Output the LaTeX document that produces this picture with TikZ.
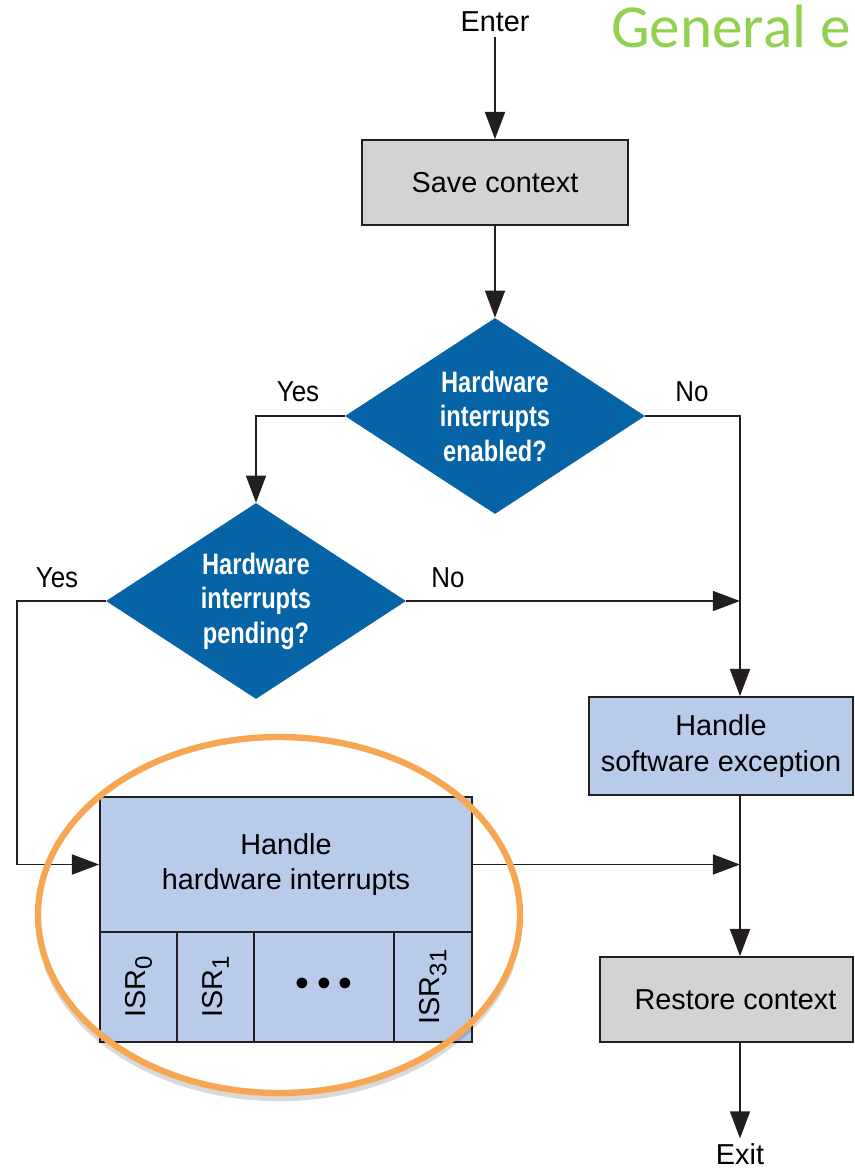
\documentclass[tikz,border=0pt]{standalone}
\usepackage{amsmath,amssymb}
\usepackage{fontspec}
\setmainfont{Liberation Sans}
\newfontfamily\condfont[FakeStretch=0.8]{Liberation Sans}
\newfontfamily\narrowfont[FakeStretch=0.9]{Liberation Sans}
\newfontfamily\slidefont{Carlito}
\usepackage{tikz}
\usetikzlibrary{shapes.geometric, arrows.meta, calc}
\usepackage{xcolor}
\definecolor{ctxgray}{RGB}{209,211,212}
\definecolor{handleblue}{RGB}{184,204,233}
\definecolor{decblue}{RGB}{5,99,166}
\definecolor{ringorange}{RGB}{247,167,84}
\definecolor{titlegreen}{RGB}{146,208,80}
\definecolor{linegray}{RGB}{35,31,32}
\newcommand{\isrlabel}[1]{\rotatebox{90}{ISR\raisebox{-0.45ex}{\fontsize{17}{17}\selectfont #1}}}

\begin{document}
\begin{tikzpicture}[
  font=\fontsize{20.5}{25}\selectfont,
  box/.style={rectangle, draw=linegray, line width=1.2pt, align=center, inner sep=0pt},
  cell/.style={box, fill=handleblue, minimum height=2.75cm},
  decision/.style={diamond, fill=decblue, text=white, align=center, inner sep=0pt, shape aspect=1.53,
    minimum width=7.5cm, minimum height=4.9cm, font=\condfont\bfseries\fontsize{21}{24.5}\selectfont},
  answer/.style={font=\narrowfont\fontsize{20.5}{25}\selectfont},
  arr/.style={draw=linegray, line width=1.3pt, -{Triangle[length=0.68cm, width=0.5cm]}}
]
\clip (0,0) rectangle (21.35,-29.35);

% 标题
\node[anchor=base west, inner sep=0pt, text=titlegreen, font=\slidefont\fontsize{43.5}{50}\selectfont] (title) at (15.275,-1.175) {General e};

% 流程节点
\node (enter) at (12.375,-0.55) {Enter};
\node[box, fill=ctxgray, minimum width=6.65cm, minimum height=2.125cm] (save) at (12.375,-4.5625) {Save context};
\node[decision] (enabled) at (12.375,-10.4) {Hardware\\interrupts\\enabled?};
\node[decision] (pending) at (6.4,-15.025) {Hardware\\interrupts\\pending?};
\node[box, fill=handleblue, minimum width=6.6cm, minimum height=2.45cm] (soft) at (18.025,-18.65) {Handle\\software exception};
\node[box, fill=handleblue, minimum width=9.3cm, minimum height=3.375cm] (hw) at (7.15,-21.6125) {Handle\\hardware interrupts};
\node[box, fill=ctxgray, minimum width=6.325cm, minimum height=2.125cm] (restore) at (18.1625,-24.9875) {\hspace*{0.45cm}Restore context};
\node (exit) at (18.5,-28.85) {Exit};

% 中断服务程序
\node[cell, minimum width=1.925cm] (isr0) at (3.4625,-24.675) {\isrlabel{0}};
\node[cell, minimum width=1.925cm] (isr1) at (5.3875,-24.675) {\isrlabel{1}};
\node[cell, minimum width=3.5cm] (dots) at (8.1,-24.675) {\fontsize{28}{28}\selectfont\textbullet\hspace{0.2cm}\textbullet\hspace{0.2cm}\textbullet};
\node[cell, minimum width=1.95cm] (isr31) at (10.825,-24.675) {\isrlabel{31}};

% 判断标签
\node[answer] (yes1) at (7.45,-9.8) {Yes};
\node[answer] (no1) at (17.3,-9.8) {No};
\node[answer] (yes2) at (1.425,-14.45) {Yes};
\node[answer] (no2) at (11.2,-14.45) {No};

% 连线
\coordinate (rail) at (18.5,0);
\coordinate (lrail) at (0.425,0);
\draw[arr] (enter) -- (save);
\draw[arr] (save) -- (enabled);
\draw[arr] (enabled.west) -| (pending.north);
\draw[arr] (enabled.east) -| (soft.north -| rail);
\draw[arr] (pending.east) -- (pending.east -| rail);
\draw[arr] (pending.west) -- (pending.west -| lrail) |- (hw.west);
\draw[arr] (soft.south -| rail) -- (restore.north -| rail);
\draw[arr] (hw.east) -- (hw.east -| rail);
\draw[arr] (restore.south -| exit) -- (exit);

% 橙色圈
\draw[black, opacity=0.15, line width=4.5pt] ($(6.975,-23.0)+(195:6.0cm and 4.45cm)$) arc [start angle=195, end angle=345, x radius=6.0cm, y radius=4.45cm];
\draw[ringorange, line width=4.5pt] (6.975,-22.875) ellipse [x radius=6.025cm, y radius=4.45cm];
\end{tikzpicture}
\end{document}
